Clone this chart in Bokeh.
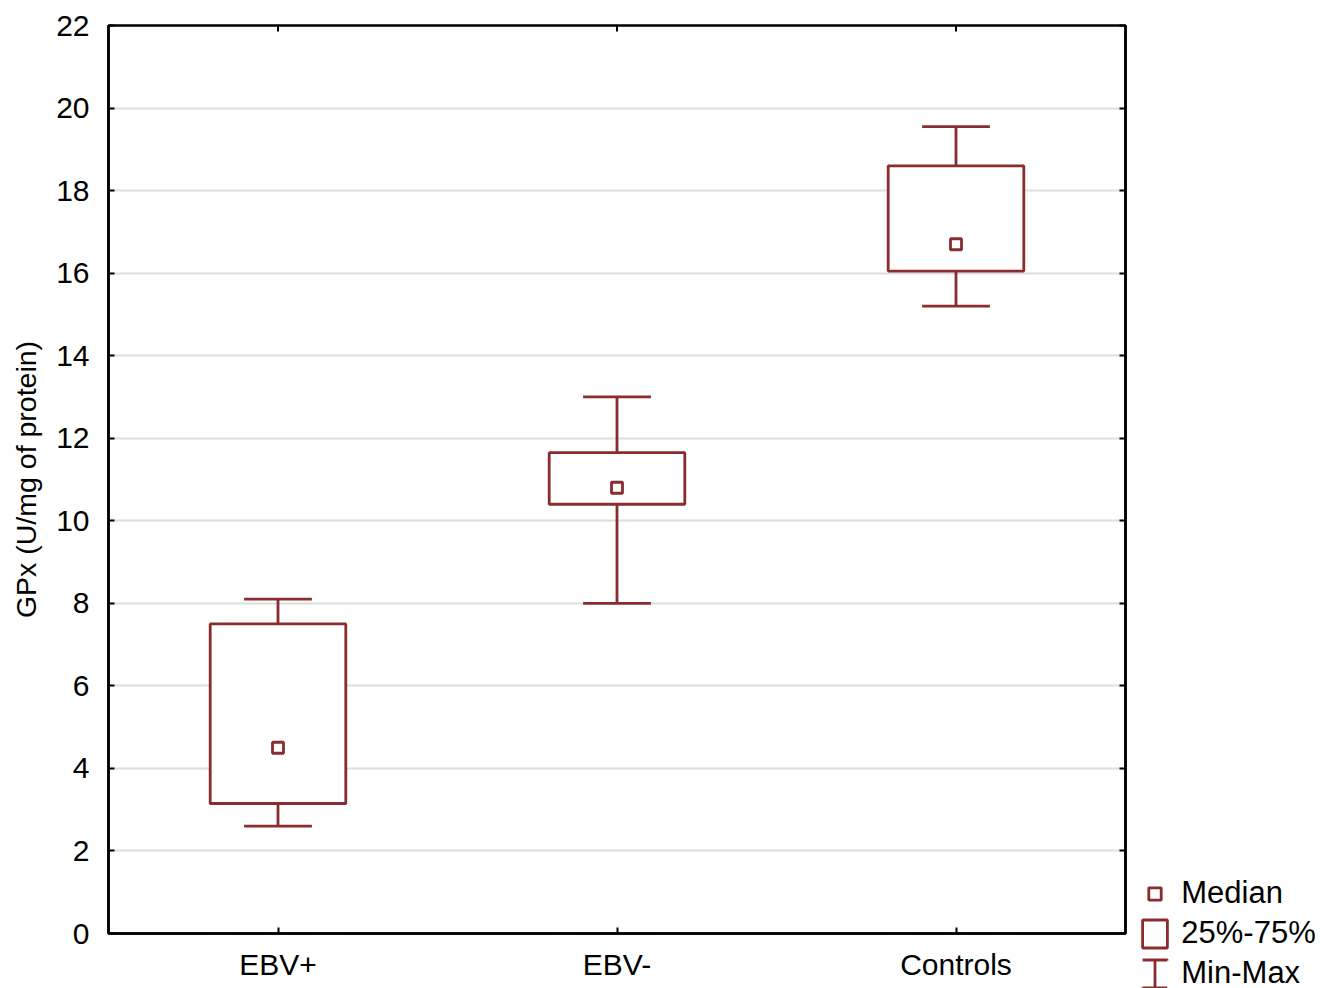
import math
from bokeh.plotting import figure
from bokeh.models import (ColumnDataSource, FactorRange, Range1d, LinearAxis,
                          SingleIntervalTicker, Legend, LegendItem)
from bokeh.transform import dodge
from bokeh.embed import file_html
from bokeh.resources import INLINE

# ---- data ----
groups = ["EBV+", "EBV-", "Controls"]
min_vals = [2.6, 8.0, 15.2]
q1_vals = [3.15, 10.4, 16.05]
median_vals = [4.5, 10.8, 16.7]
q3_vals = [7.5, 11.65, 18.6]
max_vals = [8.1, 13.0, 19.55]

legend_labels = ["Median", "25%-75%", "Min-Max"]
y_label = "GPx (U/mg of protein)"
y_start, y_end, y_step = 0, 22, 2

RED = "#8a2b2f"
FONT = "Liberation Sans"
LW = 2.8

src = ColumnDataSource(dict(g=groups, lo=min_vals, q1=q1_vals, med=median_vals,
                            q3=q3_vals, hi=max_vals))

p = figure(x_range=FactorRange(*groups), y_range=Range1d(y_start, y_end),
           frame_width=1017, frame_height=908,
           min_border_left=108, min_border_right=202,
           min_border_top=25, min_border_bottom=55,
           output_backend="svg", toolbar_location=None)
p.background_fill_color = "white"
p.border_fill_color = "white"
p.outline_line_color = "black"
p.outline_line_width = 2.5
# a range far away, used only by legend-proxy renderers (never visible in the frame)
p.extra_y_ranges = {"legend_proxy": Range1d(1000, 1001)}

ticker = SingleIntervalTicker(interval=y_step)

# grid
p.xgrid.visible = False
p.ygrid.ticker = ticker
p.ygrid.grid_line_color = "#dedede"
p.ygrid.grid_line_width = 2

# whiskers
p.segment(x0="g", y0="q3", x1="g", y1="hi", source=src, line_color=RED, line_width=LW)
p.segment(x0="g", y0="q1", x1="g", y1="lo", source=src, line_color=RED, line_width=LW)
p.segment(x0=dodge("g", -0.1, range=p.x_range), y0="hi",
          x1=dodge("g", 0.1, range=p.x_range), y1="hi", source=src, line_color=RED, line_width=LW)
p.segment(x0=dodge("g", -0.1, range=p.x_range), y0="lo",
          x1=dodge("g", 0.1, range=p.x_range), y1="lo", source=src, line_color=RED, line_width=LW)

# boxes
box_r = p.vbar(x="g", width=0.4, bottom="q1", top="q3", source=src,
               fill_color="white", line_color=RED, line_width=LW)
# medians
med_r = p.scatter(x="g", y="med", source=src, marker="square", size=11,
                  fill_color="white", line_color=RED, line_width=LW)

# top-edge category ticks (half clipped by the frame -> inward tick)
p.scatter(x="g", y=y_end, source=src, marker="dash", angle=math.pi / 2, size=12,
          line_color="black", line_width=2)

# legend proxies for the Min-Max symbol (mapped to the hidden range)
caps_r = p.vbar(x="g", width=0.4, bottom="lo", top="hi", source=src,
                y_range_name="legend_proxy",
                fill_color=None, line_color=RED, line_width=LW, line_dash="25 28")
stem_r = p.vbar(x="g", width=0.4, bottom="lo", top="hi", source=src,
                y_range_name="legend_proxy", fill_color=None, line_color=None,
                hatch_pattern="|", hatch_scale=30, hatch_weight=LW, hatch_color=RED)


def style_axis(ax):
    ax.axis_line_color = "black"
    ax.axis_line_width = 2.5
    ax.major_tick_in = 6
    ax.major_tick_out = 0
    ax.major_tick_line_color = "black"
    ax.major_tick_line_width = 2
    ax.minor_tick_line_color = None
    ax.major_label_text_font = FONT
    ax.major_label_text_color = "black"
    ax.major_label_text_font_size = "30px"


p.yaxis.ticker = ticker
style_axis(p.xaxis[0])
style_axis(p.yaxis[0])
p.xaxis.major_label_standoff = 14
p.yaxis.major_label_standoff = 15
p.yaxis.axis_label = y_label
p.yaxis.axis_label_text_font = FONT
p.yaxis.axis_label_text_font_size = "28.5px"
p.yaxis.axis_label_text_font_style = "normal"
p.yaxis.axis_label_text_color = "black"
p.yaxis.axis_label_standoff = 11

# mirrored right axis (ticks only)
right_ax = LinearAxis(ticker=ticker)
style_axis(right_ax)
right_ax.major_label_overrides = {v: "" for v in range(y_start, y_end + 1, y_step)}
right_ax.major_label_standoff = 0
p.add_layout(right_ax, "right")

# legend in the right side panel
legend = Legend(items=[LegendItem(label=legend_labels[0], renderers=[med_r]),
                       LegendItem(label=legend_labels[1], renderers=[box_r]),
                       LegendItem(label=legend_labels[2], renderers=[caps_r, stem_r])],
                location=(-224, -58), margin=0, padding=0, spacing=4,
                glyph_width=31, glyph_height=35, label_standoff=11,
                label_text_font=FONT, label_text_font_size="31px", label_text_color="black",
                label_height=30, border_line_color=None, background_fill_alpha=0)
p.add_layout(legend, "right")

open("out.html", "w").write(file_html(p, INLINE))
